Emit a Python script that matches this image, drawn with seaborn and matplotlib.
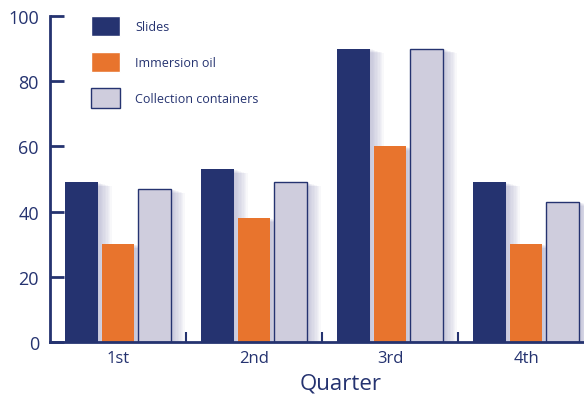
import numpy as np
import pandas as pd
import matplotlib
matplotlib.use("Agg")
import matplotlib.pyplot as plt
import matplotlib.patheffects as pe
import seaborn as sns

quarters = ["1st", "2nd", "3rd", "4th"]
series = ["Slides", "Immersion oil", "Collection containers"]
slides = [49, 53, 90, 49]
immersion_oil = [30, 38, 60, 30]
containers = [47, 49, 90, 43]

navy = "#253370"
colors = [navy, "#E8742D", "#CFCDDD"]

df = pd.DataFrame({
    "quarter": quarters * 3,
    "series": np.repeat(series, len(quarters)),
    "value": slides + immersion_oil + containers,
})

sns.set_style("white")
plt.rcParams["font.family"] = ["Open Sans", "DejaVu Sans"]

fig = plt.figure(figsize=(5.84, 4.02), dpi=100)
ax = fig.add_axes([50 / 584, 1 - 343 / 402, 544 / 584, 326 / 402])

sns.barplot(data=df, x="quarter", y="value", hue="series", palette=colors,
            width=0.805, gap=0.1, ax=ax, saturation=1, legend=True)

# soft shadow to the right of every bar
shadow = [pe.SimplePatchShadow(offset=(d, -d * 0.3), shadow_rgbFace="#8c8cb8", alpha=0.06)
          for d in range(10, 0, -1)]
for patch in ax.patches:
    if patch.get_height() == 0:
        continue
    patch.set_path_effects(shadow + [pe.Normal()])
for cont, c in zip(ax.containers, colors):
    for bar in cont:
        if c == colors[2]:
            bar.set_edgecolor(navy)
            bar.set_linewidth(1)
        else:
            bar.set_edgecolor("none")

ax.set_xlim(-0.5, 3.5)
ax.set_ylim(0, 100)
ax.set_yticks([0, 20, 40, 60, 80, 100])
ax.set_xticks([0.5, 1.5, 2.5], minor=True)
ax.tick_params(axis="y", direction="in", length=10, width=2, color=navy,
               labelcolor=navy, labelsize=13, pad=8, left=True)
ax.tick_params(axis="x", which="major", length=0, labelcolor=navy, labelsize=12, pad=6)
ax.tick_params(axis="x", which="minor", direction="in", length=7, width=1.5,
               color=navy, bottom=True)
for s in ["top", "right"]:
    ax.spines[s].set_visible(False)
for s in ["left", "bottom"]:
    ax.spines[s].set_color(navy)
    ax.spines[s].set_linewidth(2)
ax.set_ylabel("")
ax.set_xlabel("Quarter", color=navy, fontsize=16)
ax.xaxis.set_label_coords(0.535, -0.095)

handles, labels = ax.get_legend_handles_labels()
leg = ax.legend(handles, labels, loc="upper left", bbox_to_anchor=(80 / 584, 1 - 6 / 402),
                bbox_transform=fig.transFigure, frameon=False, fontsize=9,
                handlelength=2.3, handleheight=2.1, labelspacing=1.25, handletextpad=1.2)
for t in leg.get_texts():
    t.set_color(navy)
for h in leg.legend_handles:
    h.set_path_effects([])
leg.legend_handles[2].set_edgecolor(navy)
leg.legend_handles[2].set_linewidth(1)

fig.savefig("out.png", dpi=100)
